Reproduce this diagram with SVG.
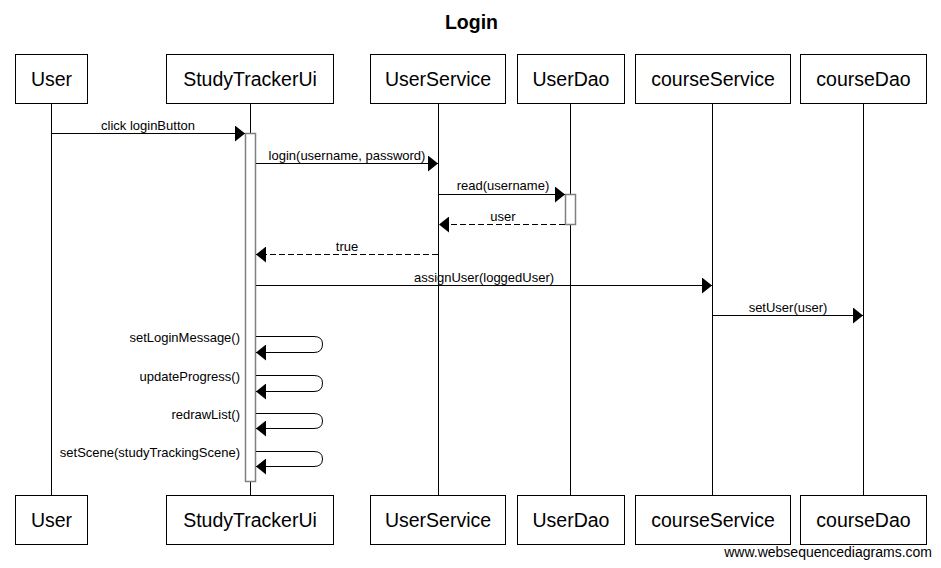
<svg xmlns="http://www.w3.org/2000/svg" width="941" height="568" viewBox="0 0 941 568">
<style>
.box{fill:#fff;stroke:#000;stroke-width:1}
.name{font-family:"Liberation Sans",Arial,sans-serif;font-size:19.5px;fill:#000;text-anchor:middle}
.life{stroke:#000;stroke-width:1;fill:none}
.msg{stroke:#000;stroke-width:1;fill:none;marker-end:url(#ah)}
.ret{stroke:#000;stroke-width:1;fill:none;stroke-dasharray:6,3;marker-end:url(#ah)}
.lbl{font-family:"Liberation Sans",Arial,sans-serif;font-size:13px;fill:#000;text-anchor:middle}
.lblr{font-family:"Liberation Sans",Arial,sans-serif;font-size:13px;fill:#000;text-anchor:end}
.act{fill:#fff;stroke:#808080;stroke-width:1.5}
</style>
<defs>
<marker id="ah" viewBox="0 0 10 16" refX="10" refY="8" markerWidth="10" markerHeight="16" markerUnits="userSpaceOnUse" orient="auto">
<path d="M0,0 L10,8 L0,16 z" fill="#000"/>
</marker>
</defs>
<rect width="941" height="568" fill="#fff"/>
<text x="471.5" y="29" font-family="'Liberation Sans',Arial,sans-serif" font-size="19.5" font-weight="bold" text-anchor="middle">Login</text>

<g id="lifelines">
<line class="life" x1="51.5" y1="103" x2="51.5" y2="495"/>
<line class="life" x1="250.5" y1="103" x2="250.5" y2="495"/>
<line class="life" x1="438.5" y1="103" x2="438.5" y2="495"/>
<line class="life" x1="570.5" y1="103" x2="570.5" y2="495"/>
<line class="life" x1="712.5" y1="103" x2="712.5" y2="495"/>
<line class="life" x1="863.5" y1="103" x2="863.5" y2="495"/>
</g>

<g id="User">
<rect class="box" x="15.5" y="54.5" width="72" height="49"/>
<text class="name" x="51.5" y="86">User</text>
<rect class="box" x="15.5" y="495.5" width="72" height="49"/>
<text class="name" x="51.5" y="527">User</text>
</g>
<g id="StudyTrackerUi">
<rect class="box" x="166.5" y="54.5" width="167" height="49"/>
<text class="name" x="250" y="86">StudyTrackerUi</text>
<rect class="box" x="166.5" y="495.5" width="167" height="49"/>
<text class="name" x="250" y="527">StudyTrackerUi</text>
</g>
<g id="UserService">
<rect class="box" x="370.5" y="54.5" width="135" height="49"/>
<text class="name" x="438" y="86">UserService</text>
<rect class="box" x="370.5" y="495.5" width="135" height="49"/>
<text class="name" x="438" y="527">UserService</text>
</g>
<g id="UserDao">
<rect class="box" x="517.5" y="54.5" width="107" height="49"/>
<text class="name" x="571" y="86">UserDao</text>
<rect class="box" x="517.5" y="495.5" width="107" height="49"/>
<text class="name" x="571" y="527">UserDao</text>
</g>
<g id="courseService">
<rect class="box" x="635.5" y="54.5" width="155" height="49"/>
<text class="name" x="713" y="86">courseService</text>
<rect class="box" x="635.5" y="495.5" width="155" height="49"/>
<text class="name" x="713" y="527">courseService</text>
</g>
<g id="courseDao">
<rect class="box" x="800.5" y="54.5" width="126" height="49"/>
<text class="name" x="863.5" y="86">courseDao</text>
<rect class="box" x="800.5" y="495.5" width="126" height="49"/>
<text class="name" x="863.5" y="527">courseDao</text>
</g>

<g id="activations">
<rect class="act" x="245.5" y="133.5" width="10" height="348"/>
<rect class="act" x="565.5" y="194.5" width="10" height="30"/>
</g>

<g id="connectors">
<line class="msg" x1="51.5" y1="133.5" x2="245" y2="133.5"/>
<text class="lbl" x="148" y="130">click loginButton</text>

<line class="msg" x1="256" y1="163.5" x2="438" y2="163.5"/>
<text class="lbl" x="347" y="159.5">login(username, password)</text>

<line class="msg" x1="438.5" y1="194.5" x2="565" y2="194.5"/>
<text class="lbl" x="503" y="190">read(username)</text>

<line class="ret" x1="565" y1="224.5" x2="439" y2="224.5"/>
<text class="lbl" x="503" y="220.5">user</text>

<line class="ret" x1="438" y1="254.5" x2="256" y2="254.5"/>
<text class="lbl" x="347" y="250.5">true</text>

<line class="msg" x1="256" y1="285.5" x2="712" y2="285.5"/>
<text class="lbl" x="484" y="281.5">assignUser(loggedUser)</text>

<line class="msg" x1="712.5" y1="315.5" x2="863" y2="315.5"/>
<text class="lbl" x="788" y="311.5">setUser(user)</text>

<path class="msg" d="M256,336.5 H314 Q322.5,336.5 322.5,344 Q322.5,352.5 314,352.5 H256"/>
<text class="lblr" x="240" y="342">setLoginMessage()</text>

<path class="msg" d="M256,375.5 H314 Q322.5,375.5 322.5,383 Q322.5,391.5 314,391.5 H256"/>
<text class="lblr" x="240" y="381">updateProgress()</text>

<path class="msg" d="M256,413.5 H314 Q322.5,413.5 322.5,421 Q322.5,428.5 314,428.5 H256"/>
<text class="lblr" x="240" y="419">redrawList()</text>

<path class="msg" d="M256,451.5 H314 Q322.5,451.5 322.5,459 Q322.5,466.5 314,466.5 H256"/>
<text class="lblr" x="240" y="457">setScene(studyTrackingScene)</text>
</g>

<text x="932" y="557" font-family="'Liberation Sans',Arial,sans-serif" font-size="14" text-anchor="end">www.websequencediagrams.com</text>
</svg>
